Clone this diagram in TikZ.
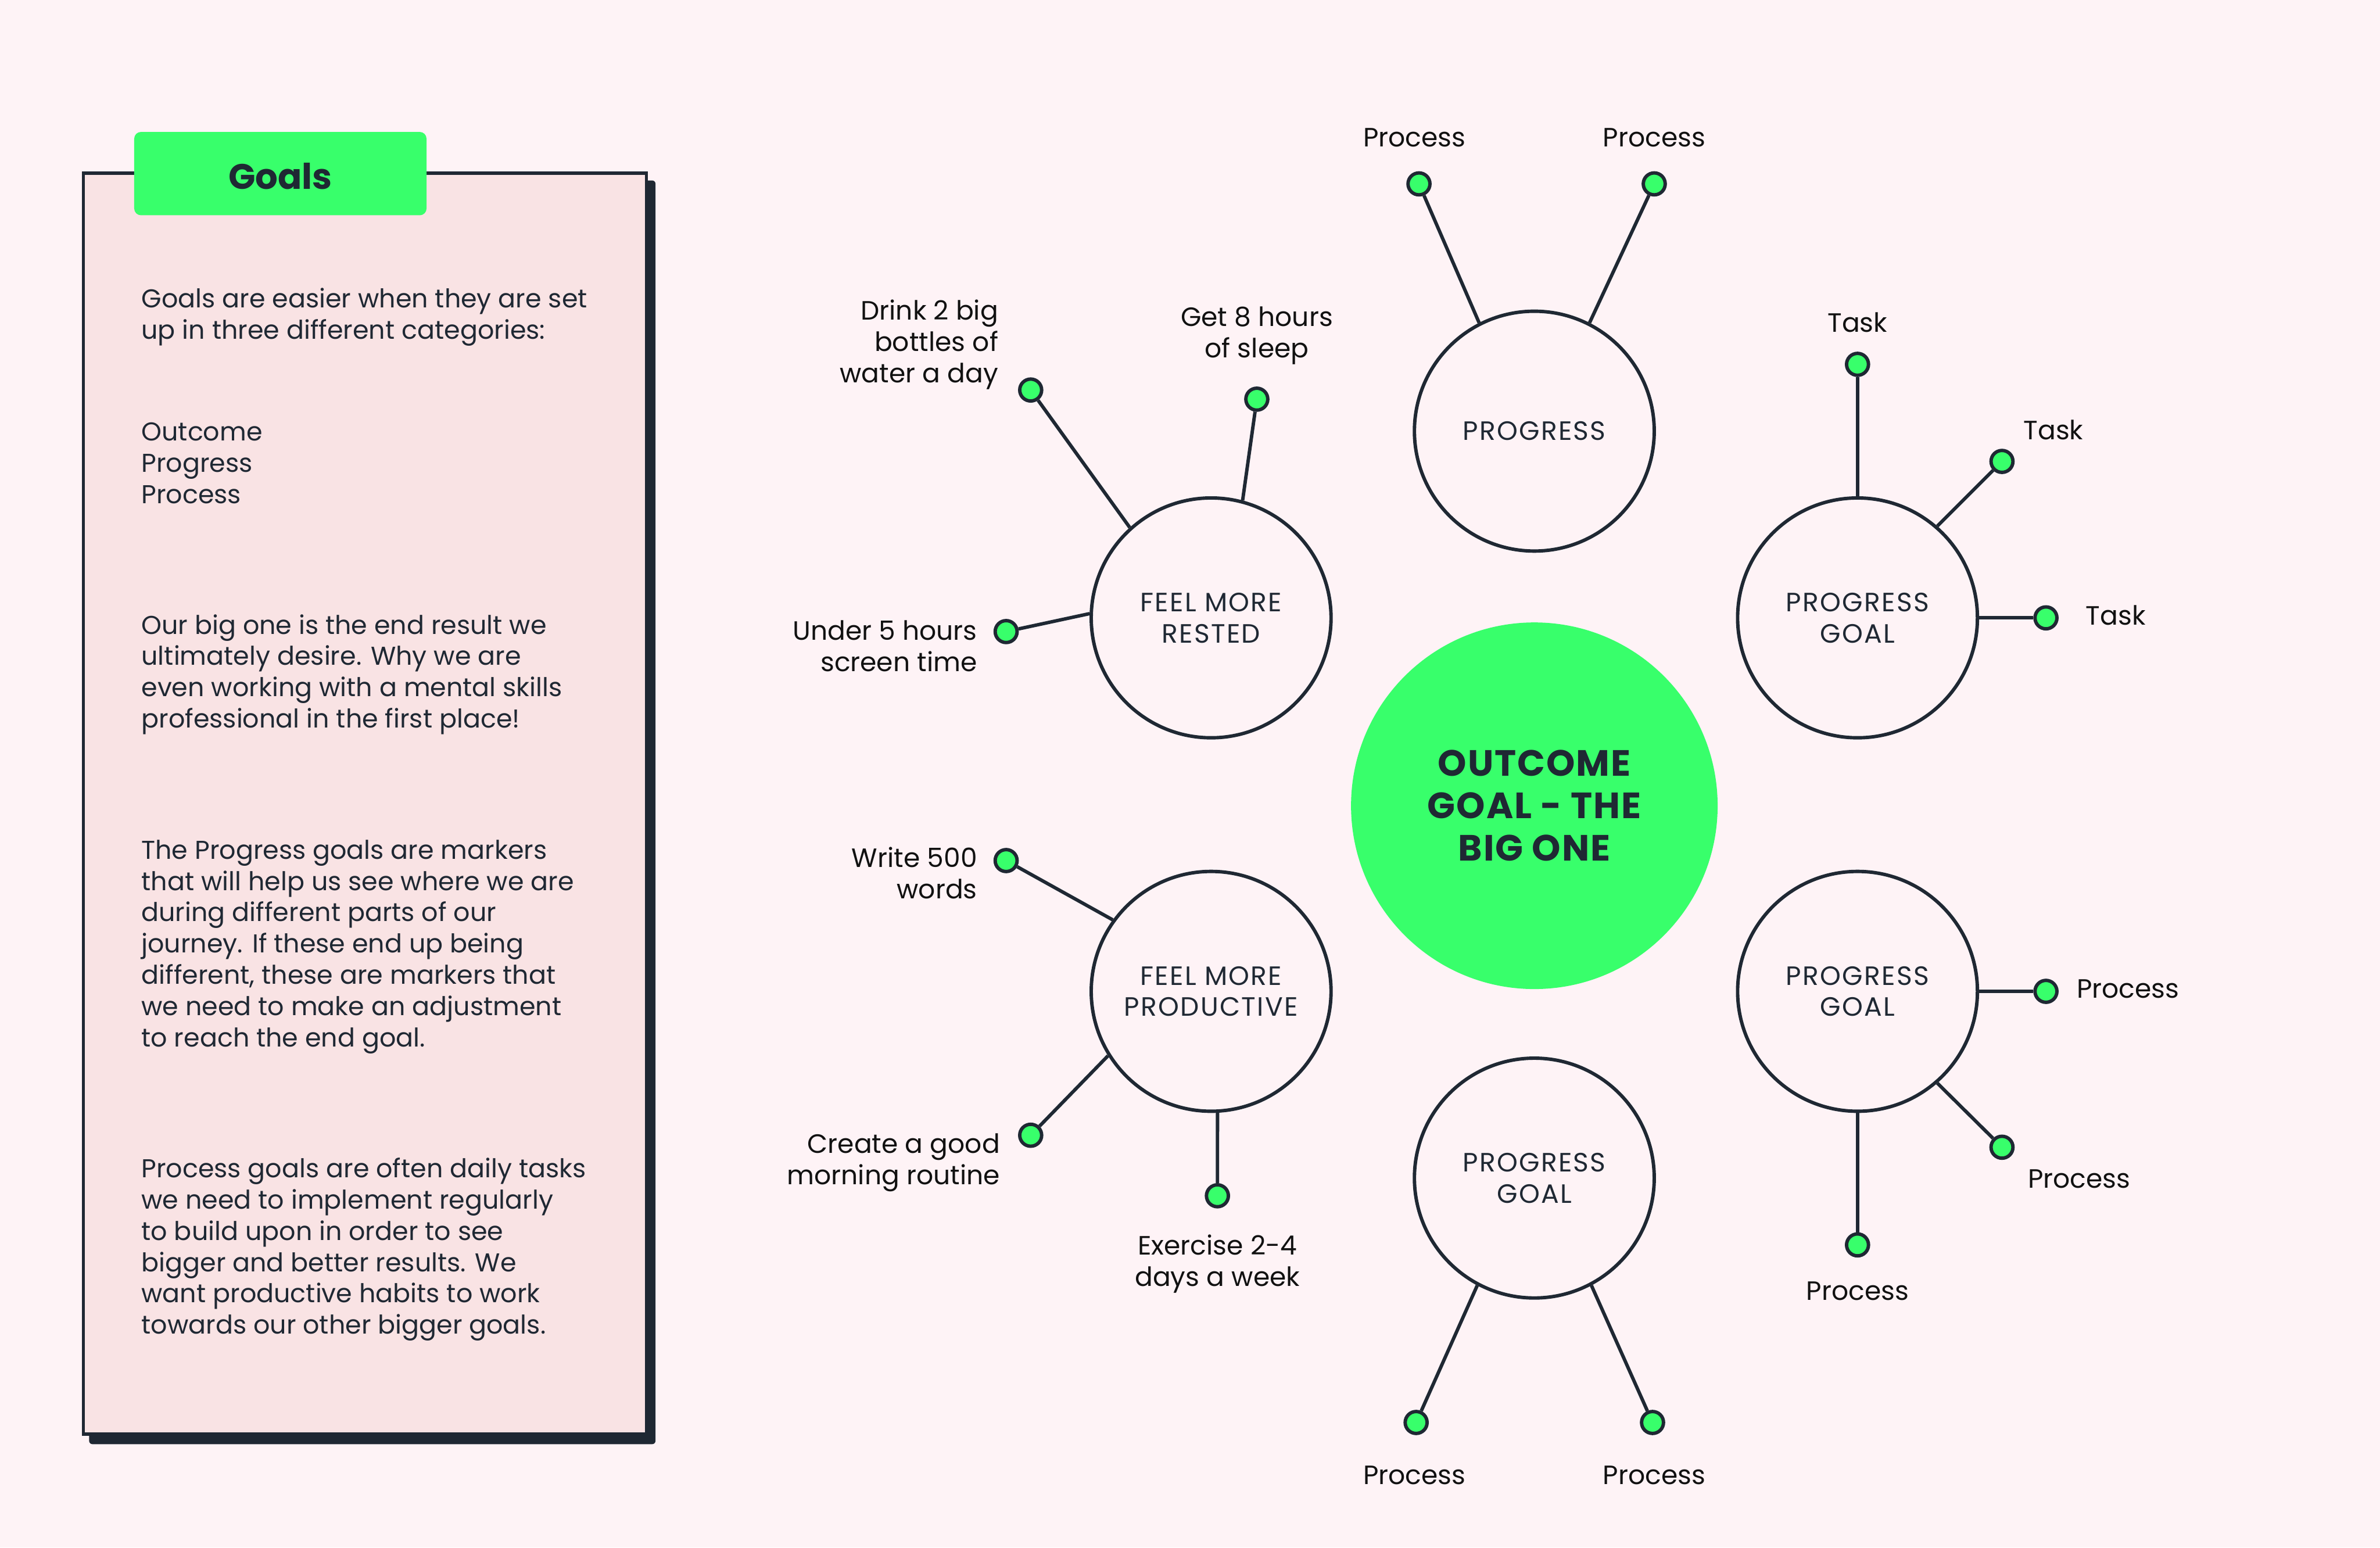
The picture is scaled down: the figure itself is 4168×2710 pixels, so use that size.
\documentclass[tikz,border=0pt]{standalone}
\usepackage{fontspec}
\setmainfont{Poppins}
\definecolor{bgc}{HTML}{FEF3F6}
\definecolor{boxfill}{HTML}{F9E3E4}
\definecolor{ink}{HTML}{1F2833}
\definecolor{lblink}{HTML}{111111}
\definecolor{grn}{HTML}{38FF6B}
\newcommand\fsn{\fontsize{11.6pt}{13.7pt}\selectfont}
\newcommand\fsp{\fontsize{11.3pt}{13.7pt}\selectfont}
\newcommand\fsc{\fontsize{11.6pt}{13.7pt}\selectfont\addfontfeatures{LetterSpace=5}}
\newcommand\fsb{\fontsize{15.5pt}{18.6pt}\selectfont\bfseries}
\newcommand\fsbc{\fontsize{16pt}{18.6pt}\selectfont\bfseries\addfontfeatures{LetterSpace=3}}
\begin{document}
\begin{tikzpicture}[x=0.25pt,y=-0.25pt,
  para/.style={anchor=north west, inner sep=0pt, align=left, font=\fsp, text=ink},
  lbl/.style={inner sep=0pt, font=\fsn, text=lblink},
  circ/.style={circle, draw=ink, line width=1.5pt, fill=bgc, minimum size=105pt, inner sep=0pt, align=center, font=\fsc, text=ink},
  dotn/.style={circle, draw=ink, line width=1.5pt, fill=grn, minimum size=9.6pt, inner sep=0pt},
  link/.style={draw=ink, line width=1.5pt}]
\useasboundingbox[fill=bgc] (0,0) rectangle (4168,2710);

% ---- left text box ----
\fill[ink, rounded corners=1.5pt] (156,316) rectangle (1148,2529);
\draw[ink, line width=1.5pt, fill=boxfill] (146,303) rectangle (1132,2511);
\fill[grn, rounded corners=3pt] (235,231) rectangle (747,377);
\node[inner sep=0pt, font=\fsb, text=ink] (tab) at (491,309) {Goals};

\node[para] (p1) at (247,500) {\strut Goals are easier when they are set\\up in three different categories:};
\node[para] (p2) at (247,733) {\strut Outcome\\Progress\\Process};
\node[para] (p3) at (247,1071) {\strut Our big one is the end result we\\ultimately desire. Why we are\\even working with a mental skills\\professional in the first place!};
\node[para] (p4) at (247,1465) {\strut The Progress goals are markers\\that will help us see where we are\\during different parts of our\\journey. If these end up being\\different, these are markers that\\we need to make an adjustment\\to reach the end goal.};
\node[para] (p5) at (247,2023) {\strut Process goals are often daily tasks\\we need to implement regularly\\to build upon in order to see\\bigger and better results. We\\want productive habits to work\\towards our other bigger goals.};

% ---- central circle ----
\node[circle, fill=grn, minimum size=160.5pt, inner sep=0pt, align=center, font=\fsbc, text=ink] (out) at (2687,1411) {OUTCOME\\GOAL - THE\\BIG ONE};

% ---- satellite circles ----
\node[circ] (fmr) at (2121,1082) {FEEL MORE\\RESTED};
\node[circ] (prg) at (2687,755) {PROGRESS};
\node[circ] (pgu) at (3253,1082) {PROGRESS\\GOAL};
\node[circ] (pgl) at (3253,1736) {PROGRESS\\GOAL};
\node[circ] (pgb) at (2687,2063) {PROGRESS\\GOAL};
\node[circ] (fmp) at (2121,1736) {FEEL MORE\\PRODUCTIVE};

% ---- dots ----
\node[dotn] (d1) at (2485,322) {};
\node[dotn] (d2) at (2897,322) {};
\node[dotn] (d3) at (1805,683) {};
\node[dotn] (d4) at (2201,699) {};
\node[dotn] (d5) at (1762,1106) {};
\node[dotn] (d6) at (3253,638) {};
\node[dotn] (d7) at (3506,808) {};
\node[dotn] (d8) at (3583,1082) {};
\node[dotn] (d9) at (3583,1736) {};
\node[dotn] (d10) at (3506,2009) {};
\node[dotn] (d11) at (3253,2180) {};
\node[dotn] (d12) at (2480,2491) {};
\node[dotn] (d13) at (2894,2491) {};
\node[dotn] (d14) at (1762,1507) {};
\node[dotn] (d15) at (1805,1988) {};
\node[dotn] (d16) at (2132,2094) {};

% ---- connectors ----
\draw[link] (d1) -- (prg.117);
\draw[link] (d2) -- (prg.63);
\draw[link] (d3) -- (fmr.132);
\draw[link] (d4) -- (fmr.75);
\draw[link] (d5) -- (fmr.178);
\draw[link] (d6) -- (pgu.90);
\draw[link] (d7) -- (pgu.49);
\draw[link] (d8) -- (pgu.0);
\draw[link] (d9) -- (pgl.0);
\draw[link] (d10) -- (pgl.-49);
\draw[link] (d11) -- (pgl.-90);
\draw[link] (d12) -- (pgb.-118);
\draw[link] (d13) -- (pgb.-62);
\draw[link] (d14) -- (fmp.144);
\draw[link] (d15) -- (fmp.212);
\draw[link] (d16) -- (fmp.-87);

% ---- labels ----
\node[lbl, anchor=north] (l1) at (2477,218) {\strut Process};
\node[lbl, anchor=north] (l2) at (2897,218) {\strut Process};
\node[lbl, anchor=north east, align=right] (l3) at (1749,521) {\strut Drink 2 big\\bottles of\\water a day};
\node[lbl, anchor=north, align=center] (l4) at (2201,532) {\strut Get 8 hours\\of sleep};
\node[lbl, anchor=north east, align=right] (l5) at (1712,1082) {\strut Under 5 hours\\screen time};
\node[lbl, anchor=north] (l6) at (3253,542) {\strut Task};
\node[lbl, anchor=north west] (l7) at (3543,731) {\strut Task};
\node[lbl, anchor=north west] (l8) at (3652,1055) {\strut Task};
\node[lbl, anchor=north west] (l9) at (3636,1709) {\strut Process};
\node[lbl, anchor=north] (l10) at (3641,2041) {\strut Process};
\node[lbl, anchor=north] (l11) at (3253,2238) {\strut Process};
\node[lbl, anchor=north] (l12) at (2477,2560) {\strut Process};
\node[lbl, anchor=north] (l13) at (2897,2560) {\strut Process};
\node[lbl, anchor=north east, align=right] (l14) at (1712,1480) {\strut Write 500\\words};
\node[lbl, anchor=north east, align=right] (l15) at (1752,1980) {\strut Create a good\\morning routine};
\node[lbl, anchor=north, align=center] (l16) at (2132,2158) {\strut Exercise 2-4\\days a week};
\end{tikzpicture}
\end{document}
